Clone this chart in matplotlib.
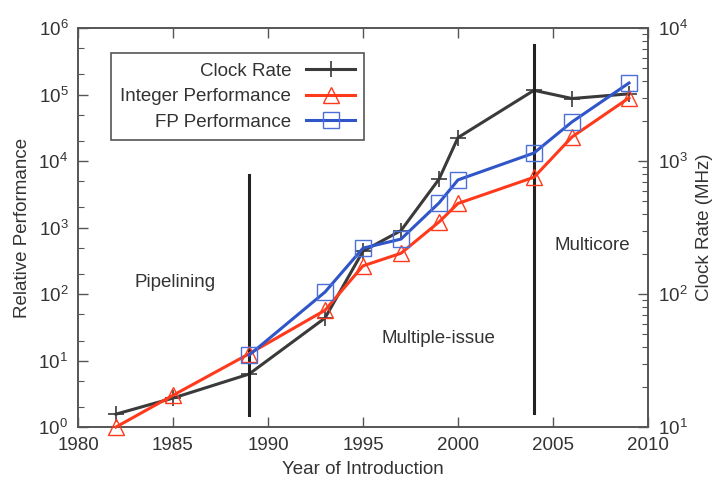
import numpy as np
import matplotlib.pyplot as plt
from matplotlib.ticker import LogLocator, FixedLocator, NullFormatter

plt.rcParams['font.family'] = ['Liberation Sans', 'DejaVu Sans']

# ---- data ----
clock_years = [1982, 1985, 1989, 1993, 1995, 1997, 1999, 2000, 2004, 2006, 2009]
clock_mhz = [12.5, 16.5, 25, 66, 210, 300, 730, 1500, 3400, 2950, 3200]

int_years = [1982, 1985, 1989, 1993, 1995, 1997, 1999, 2000, 2004, 2006, 2009]
int_perf = [1.0, 3.0, 12.6, 57, 265, 410, 1210, 2300, 5700, 23000, 89000]

fp_years = [1989, 1993, 1995, 1997, 1999, 2000, 2004, 2006, 2009]
fp_perf = [12.0, 107, 490, 670, 2340, 5200, 13200, 38700, 149000]

era_years = [1989, 2004]
era_bottoms = [1.5, 1.6]
era_tops = [6100, 5.5e5]

TXT = "#333333"
BLACK_C = "#3a3a3a"
RED_C = "#ff3a1c"
BLUE_C = "#2f55c8"
FS = 13.5

fig = plt.figure(figsize=(7.13, 4.83), dpi=100)
ax = fig.add_axes([0.1094, 0.1159, 0.7994, 0.8261])
ax2 = ax.twinx()

# era separators
for yr, b, t in zip(era_years, era_bottoms, era_tops):
    ax.plot([yr, yr], [b, t], color="#222222", linewidth=2.2, zorder=2)

ax2.plot(clock_years, clock_mhz, color=BLACK_C, linewidth=2.2, marker="+",
         markersize=12, markeredgewidth=1.2, zorder=3, clip_on=False)
ax.plot(int_years, int_perf, color=RED_C, linewidth=2.2, marker="^",
        markersize=12, markerfacecolor="none", markeredgecolor=RED_C,
        markeredgewidth=1.0, zorder=4, clip_on=False)
ax.plot(fp_years, fp_perf, color=BLUE_C, linewidth=2.2, marker="s",
        markersize=12, markerfacecolor="none", markeredgecolor="#4a6fd8",
        markeredgewidth=1.0, zorder=5, clip_on=False)
ax.set_zorder(ax2.get_zorder() + 1)
ax.patch.set_visible(False)

ax.set_xlim(1980, 2010)
ax.set_yscale("log")
ax.set_ylim(1, 1e6)
ax2.set_yscale("log")
ax2.set_ylim(10, 1e4)

ax.xaxis.set_major_locator(FixedLocator(range(1980, 2011, 5)))
ax.yaxis.set_major_locator(LogLocator(base=10, numticks=10))
ax.yaxis.set_minor_locator(LogLocator(base=10, subs=(2, 5), numticks=20))
ax.yaxis.set_minor_formatter(NullFormatter())
ax2.yaxis.set_minor_locator(LogLocator(base=10, subs=np.arange(2, 10), numticks=20))
ax2.yaxis.set_minor_formatter(NullFormatter())

for a in (ax, ax2):
    a.tick_params(which="both", direction="in", colors="#555555",
                  labelcolor=TXT, labelsize=FS)
    a.tick_params(which="major", length=7, width=1)
    a.tick_params(which="minor", length=4, width=0.8)
    for s in a.spines.values():
        s.set_color("#555555")
        s.set_linewidth(1.2)
ax.tick_params(axis="x", top=True, pad=7)
ax.tick_params(axis="y", pad=7)
ax2.tick_params(axis="y", pad=7)

ax.set_xlabel("Year of Introduction", fontsize=FS, color=TXT, labelpad=5)
ax.set_ylabel("Relative Performance", fontsize=FS, color=TXT, labelpad=5)
ax2.set_ylabel("Clock Rate (MHz)", fontsize=FS, color=TXT, labelpad=6)

ax.text(1985.1, 150, "Pipelining", fontsize=FS, color=TXT, ha="center", va="center")
ax.text(1998.95, 21.5, "Multiple-issue", fontsize=FS, color=TXT, ha="center", va="center")
ax.text(2007.05, 540, "Multicore", fontsize=FS, color=TXT, ha="center", va="center")

# legend (handles taken from the plotted lines)
h_clock = ax2.get_lines()[0]
h_int, h_fp = ax.get_lines()[2], ax.get_lines()[3]
leg = ax.legend([h_clock, h_int, h_fp],
                ["Clock Rate", "Integer Performance", "FP Performance"],
                loc="upper left", bbox_to_anchor=(0.058, 0.937),
                borderaxespad=0, markerfirst=False, fontsize=FS,
                handlelength=2.6, labelspacing=0.45, borderpad=0.5,
                fancybox=False, framealpha=1, edgecolor="#555555")
leg.get_frame().set_linewidth(1.2)
for t in leg.get_texts():
    t.set_color(TXT)
    t.set_ha("right")
leg._legend_box.align = "right"

fig.savefig("out.png", dpi=100)
